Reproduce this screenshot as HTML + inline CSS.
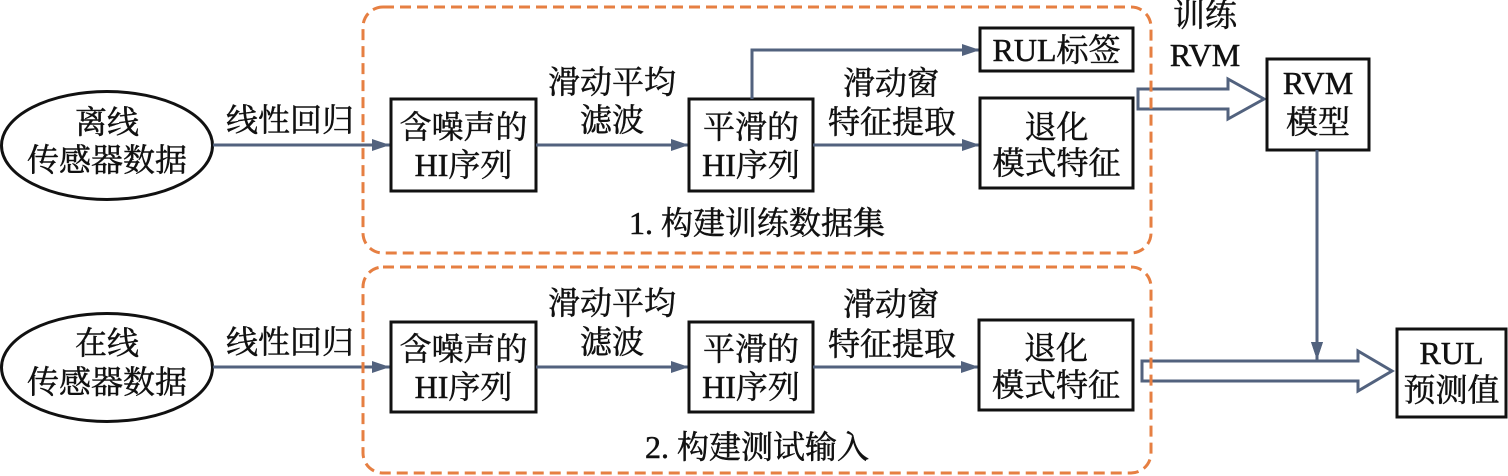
<!DOCTYPE html>
<html>
<head>
<meta charset="utf-8">
<style>
  html, body { margin:0; padding:0; background:#fff; }
  svg { display:block; }
  text { font-family: "Liberation Serif", "Noto Serif CJK SC", serif; font-size:32px; fill:#111; stroke:#111; stroke-width:0.5px; }
</style>
</head>
<body>
<svg width="1508" height="476" viewBox="0 0 1508 476" xmlns="http://www.w3.org/2000/svg">
  <defs>
    <marker id="ah" markerWidth="18" markerHeight="12" refX="18" refY="6" orient="auto" markerUnits="userSpaceOnUse">
      <path d="M0,0 L18,6 L0,12 Z" fill="#52627e"/>
    </marker>
  </defs>

  <!-- ============ TOP ROW ============ -->
  <ellipse cx="107" cy="145.5" rx="105.5" ry="54" fill="#fff" stroke="#111" stroke-width="3"/>
  <text x="107" y="122" text-anchor="middle" dominant-baseline="central">离线</text>
  <text x="107" y="160" text-anchor="middle" dominant-baseline="central">传感器数据</text>

  <line x1="213" y1="145" x2="390" y2="145" stroke="#52627e" stroke-width="3" marker-end="url(#ah)"/>
  <text x="290" y="120" text-anchor="middle" dominant-baseline="central">线性回归</text>

  <rect x="391" y="99" width="145" height="92" fill="#fff" stroke="#111" stroke-width="3"/>
  <text x="463.5" y="127" text-anchor="middle" dominant-baseline="central">含噪声的</text>
  <text x="463.5" y="165" text-anchor="middle" dominant-baseline="central">HI序列</text>

  <line x1="536" y1="145" x2="689" y2="145" stroke="#52627e" stroke-width="3" marker-end="url(#ah)"/>
  <text x="612" y="82" text-anchor="middle" dominant-baseline="central">滑动平均</text>
  <text x="612" y="120" text-anchor="middle" dominant-baseline="central">滤波</text>

  <rect x="689" y="99" width="124" height="92" fill="#fff" stroke="#111" stroke-width="3"/>
  <text x="751" y="127" text-anchor="middle" dominant-baseline="central">平滑的</text>
  <text x="751" y="165" text-anchor="middle" dominant-baseline="central">HI序列</text>

  <polyline points="752,99 752,50 980,50" fill="none" stroke="#52627e" stroke-width="3" marker-end="url(#ah)"/>
  <rect x="980" y="28" width="153" height="43" fill="#fff" stroke="#111" stroke-width="3"/>
  <text x="1056.5" y="50" text-anchor="middle" dominant-baseline="central">RUL标签</text>

  <line x1="813" y1="145" x2="980" y2="145" stroke="#52627e" stroke-width="3" marker-end="url(#ah)"/>
  <text x="891" y="83" text-anchor="middle" dominant-baseline="central">滑动窗</text>
  <text x="892" y="122" text-anchor="middle" dominant-baseline="central">特征提取</text>

  <rect x="980" y="98" width="153" height="90" fill="#fff" stroke="#111" stroke-width="3"/>
  <text x="1056.5" y="127" text-anchor="middle" dominant-baseline="central">退化</text>
  <text x="1056.5" y="163" text-anchor="middle" dominant-baseline="central">模式特征</text>

  <text x="757" y="223" text-anchor="middle" dominant-baseline="central">1. 构建训练数据集</text>

  <!-- hollow arrow top -->
  <path d="M1138,89 L1228,89 L1228,79 L1264,99 L1228,119 L1228,109 L1138,109 Z" fill="#fff" stroke="#52627e" stroke-width="3" stroke-linejoin="miter"/>

  <rect x="363" y="7" width="788" height="246" rx="20" ry="20" fill="none" stroke="#e67f42" stroke-width="3" stroke-dasharray="11 6"/>

  <text x="1205" y="15" text-anchor="middle" dominant-baseline="central">训练</text>
  <text x="1205" y="55" text-anchor="middle" dominant-baseline="central">RVM</text>

  <rect x="1267" y="59" width="102" height="91" fill="#fff" stroke="#111" stroke-width="3"/>
  <text x="1318" y="83" text-anchor="middle" dominant-baseline="central">RVM</text>
  <text x="1318" y="122" text-anchor="middle" dominant-baseline="central">模型</text>

  <line x1="1317" y1="150" x2="1317" y2="360" stroke="#52627e" stroke-width="3" marker-end="url(#ah)"/>

  <!-- ============ BOTTOM ROW ============ -->
  <ellipse cx="107" cy="367.5" rx="105.5" ry="54" fill="#fff" stroke="#111" stroke-width="3"/>
  <text x="107" y="343" text-anchor="middle" dominant-baseline="central">在线</text>
  <text x="107" y="382" text-anchor="middle" dominant-baseline="central">传感器数据</text>

  <line x1="213" y1="367" x2="390" y2="367" stroke="#52627e" stroke-width="3" marker-end="url(#ah)"/>
  <text x="290" y="342" text-anchor="middle" dominant-baseline="central">线性回归</text>

  <rect x="391" y="322" width="145" height="90" fill="#fff" stroke="#111" stroke-width="3"/>
  <text x="463.5" y="349" text-anchor="middle" dominant-baseline="central">含噪声的</text>
  <text x="463.5" y="387" text-anchor="middle" dominant-baseline="central">HI序列</text>

  <line x1="536" y1="367" x2="689" y2="367" stroke="#52627e" stroke-width="3" marker-end="url(#ah)"/>
  <text x="612" y="303" text-anchor="middle" dominant-baseline="central">滑动平均</text>
  <text x="612" y="342" text-anchor="middle" dominant-baseline="central">滤波</text>

  <rect x="689" y="322" width="124" height="90" fill="#fff" stroke="#111" stroke-width="3"/>
  <text x="751" y="349" text-anchor="middle" dominant-baseline="central">平滑的</text>
  <text x="751" y="387" text-anchor="middle" dominant-baseline="central">HI序列</text>

  <line x1="813" y1="367" x2="979" y2="367" stroke="#52627e" stroke-width="3" marker-end="url(#ah)"/>
  <text x="891" y="304" text-anchor="middle" dominant-baseline="central">滑动窗</text>
  <text x="892" y="344" text-anchor="middle" dominant-baseline="central">特征提取</text>

  <rect x="979" y="320" width="154" height="90" fill="#fff" stroke="#111" stroke-width="3"/>
  <text x="1056" y="348" text-anchor="middle" dominant-baseline="central">退化</text>
  <text x="1056" y="385" text-anchor="middle" dominant-baseline="central">模式特征</text>

  <text x="757" y="447" text-anchor="middle" dominant-baseline="central">2. 构建测试输入</text>

  <!-- hollow arrow bottom -->
  <path d="M1142,361 L1358,361 L1358,351 L1392,371 L1358,391 L1358,381 L1142,381 Z" fill="#fff" stroke="#52627e" stroke-width="3" stroke-linejoin="miter"/>

  <rect x="363" y="267" width="788" height="206" rx="20" ry="20" fill="none" stroke="#e67f42" stroke-width="3" stroke-dasharray="11 6"/>

  <!-- redraw arrow tip of vertical line over hollow arrow -->
  <path d="M1311,342 L1317,360 L1323,342 Z" fill="#52627e"/>

  <rect x="1397" y="329" width="109" height="88" fill="#fff" stroke="#111" stroke-width="3"/>
  <text x="1451.5" y="353" text-anchor="middle" dominant-baseline="central">RUL</text>
  <text x="1451.5" y="390" text-anchor="middle" dominant-baseline="central">预测值</text>
</svg>
</body>
</html>
